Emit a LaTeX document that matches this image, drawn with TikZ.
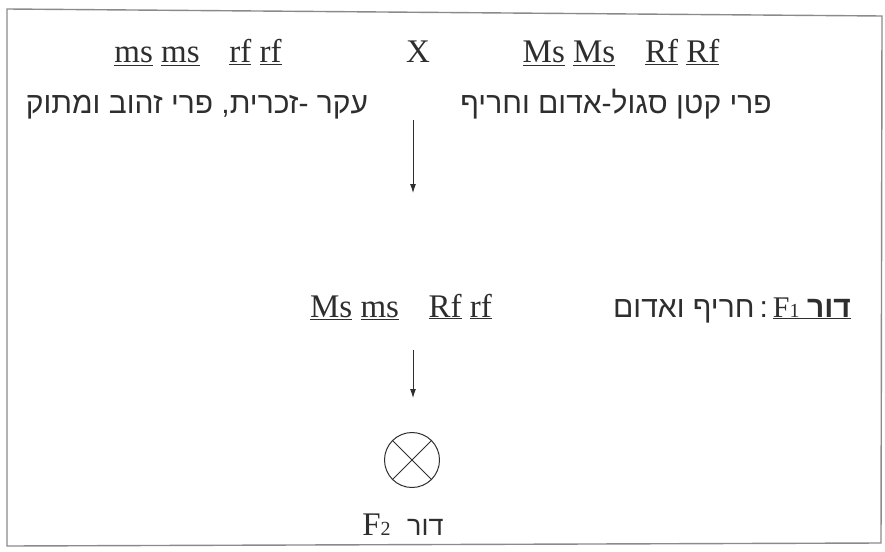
\documentclass[tikz,border=0pt]{standalone}
\usepackage{fontspec}
\setmainfont{Liberation Serif}
\newfontfamily\heb[Script=Hebrew]{Liberation Sans}
\TeXXeTstate=1
\usetikzlibrary{arrows.meta}
\definecolor{ink}{HTML}{2E2E2E}
\definecolor{framec}{HTML}{8A8A8A}
\newcommand{\ul}[1]{\underline{#1}}
\newcommand{\smallone}[1]{{\fontsize{20}{22}\selectfont #1}}
\tikzset{
  lat/.style={anchor=base, text=ink, inner sep=0pt, font=\fontsize{33}{38}\selectfont},
  hebtxt/.style={anchor=base, text=ink, inner sep=0pt, font=\heb\fontsize{30}{34}\selectfont},
  arr/.style={draw=ink, line width=0.9pt, -{Latex[length=9pt,width=6pt]}},
  frame/.style={draw=framec, line width=1.4pt},
}
\begin{document}
\begin{tikzpicture}[x=1pt,y=-1pt]
\useasboundingbox (0,0) rectangle (885,551);
\draw[frame] (7,9) -- (882,16) -- (881,543) -- (7,546) -- cycle;
% row 1
\node[lat] (p1) at (198,63) {\ul{ms}\ \ul{ms}\hspace{0.9em}\ul{rf}\ \ul{rf}};
\node[lat] (x) at (418,63) {X};
\node[lat] (p2) at (621,63) {\ul{Ms}\ \ul{Ms}\hspace{0.9em}\ul{Rf}\ \ul{Rf}};
\node[hebtxt] (h1) at (197,113) {\beginR עקר -זכרית, פרי זהוב ומתוק\endR};
\node[hebtxt] (h2) at (616,113) {\beginR פרי קטן סגול-אדום וחריף\endR};
% arrow 1
\coordinate (a1s) at (413,120);
\coordinate (a1e) at (413,193);
\draw[arr] (a1s) -- (a1e);
% row 2
\node[lat] (f1) at (401,317) {\ul{Ms}\ \ul{ms}\hspace{0.9em}\ul{Rf}\ \ul{rf}};
\node[hebtxt] (f1h) at (732,317) {\beginR חריף ואדום\endR\,:\,\underline{\fontfamily{\rmdefault}\selectfont F\smallone{1}\ {\heb\bfseries\beginR דור\endR}}};
% arrow 2
\coordinate (a2s) at (413,350);
\coordinate (a2e) at (413,398);
\draw[arr] (a2s) -- (a2e);
% self cross symbol
\node[circle, draw=ink, line width=1pt, minimum size=55pt, inner sep=0pt] (c) at (412,460) {};
\draw[ink, line width=1pt] (c.45) -- (c.225) (c.135) -- (c.315);
% F2
\node[lat] (f2) at (403,535) {F\smallone{2}\hspace{0.5em}{\heb\fontsize{27}{30}\selectfont\beginR דור\endR}};
\end{tikzpicture}
\end{document}
